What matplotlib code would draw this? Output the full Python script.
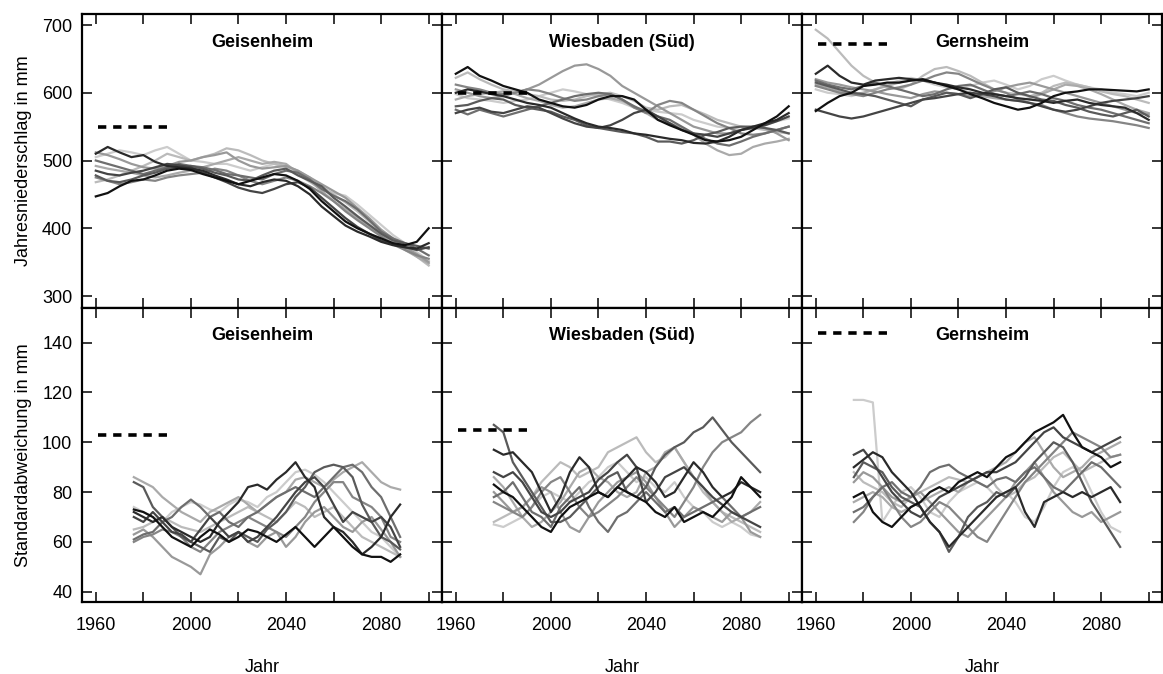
import matplotlib
matplotlib.use("Agg")
import matplotlib.pyplot as plt

# DATA ########################################################################

stations = ["Geisenheim", "Wiesbaden (Süd)", "Gernsheim"]

years_mean = list(range(1960, 2101, 5))
years_std = list(range(1976, 2089, 4))

# observed reference period 1961-1990
ref_period = [1961, 1990]
ref_mean = [550, 600, 672]
ref_std = [103, 105, 144]

# 30-year running annual precipitation (mm), 10 model runs per station
geisenheim_mean = [
    [447, 452, 462, 470, 472, 478, 485, 488, 486, 480, 475, 470, 465, 470, 475, 480, 478, 470, 458, 440, 425, 410, 400, 392, 385, 378, 375, 380, 400],
    [510, 520, 512, 505, 508, 498, 492, 490, 488, 485, 478, 472, 465, 462, 468, 472, 470, 462, 450, 432, 418, 404, 395, 388, 380, 375, 372, 370, 378],
    [485, 480, 478, 482, 485, 490, 495, 493, 490, 482, 475, 468, 460, 455, 452, 458, 465, 468, 460, 445, 430, 415, 402, 392, 382, 376, 372, 368, 372],
    [478, 470, 468, 472, 478, 482, 488, 490, 492, 488, 482, 478, 472, 470, 478, 485, 488, 478, 470, 462, 445, 432, 418, 405, 392, 382, 378, 374, 370],
    [500, 495, 490, 485, 480, 485, 490, 495, 492, 490, 486, 480, 478, 475, 472, 480, 485, 482, 472, 458, 448, 440, 428, 412, 395, 385, 378, 370, 360],
    [475, 470, 465, 468, 472, 470, 475, 478, 480, 482, 488, 485, 478, 470, 465, 470, 475, 470, 462, 452, 440, 425, 412, 400, 388, 376, 368, 360, 355],
    [512, 508, 502, 495, 490, 488, 492, 498, 500, 505, 508, 512, 500, 492, 488, 490, 492, 485, 475, 465, 455, 445, 430, 415, 398, 385, 372, 362, 350],
    [492, 488, 485, 482, 478, 475, 478, 482, 485, 490, 495, 500, 505, 500, 495, 498, 495, 482, 470, 455, 440, 428, 415, 402, 390, 380, 368, 358, 348],
    [468, 472, 478, 485, 492, 500, 510, 505, 500, 505, 510, 518, 515, 508, 500, 495, 492, 485, 475, 462, 450, 438, 425, 410, 395, 382, 370, 358, 345],
    [505, 510, 515, 512, 508, 515, 520, 510, 500, 498, 495, 495, 490, 485, 490, 495, 490, 480, 468, 458, 452, 448, 435, 420, 405, 390, 378, 365, 352],
]

wiesbaden_mean = [
    [628, 638, 625, 618, 610, 605, 600, 590, 585, 580, 578, 582, 590, 595, 595, 590, 575, 560, 552, 545, 538, 530, 528, 530, 535, 545, 555, 565, 580],
    [600, 605, 602, 598, 595, 590, 585, 582, 578, 570, 562, 555, 550, 548, 545, 540, 538, 535, 532, 530, 526, 525, 528, 535, 545, 550, 555, 560, 570],
    [570, 575, 578, 572, 570, 575, 580, 578, 570, 562, 555, 550, 548, 552, 560, 570, 575, 565, 555, 545, 540, 538, 535, 540, 545, 548, 552, 558, 565],
    [580, 582, 588, 592, 590, 582, 578, 575, 572, 565, 560, 552, 548, 545, 542, 540, 535, 528, 528, 525, 530, 538, 542, 548, 550, 550, 548, 545, 540],
    [575, 568, 575, 570, 565, 570, 575, 580, 585, 590, 595, 598, 600, 598, 590, 580, 572, 565, 560, 550, 540, 532, 525, 522, 528, 535, 540, 545, 550],
    [612, 608, 605, 600, 598, 600, 605, 603, 598, 592, 588, 590, 595, 598, 590, 578, 570, 582, 588, 585, 575, 565, 555, 548, 540, 538, 540, 545, 550],
    [605, 600, 595, 592, 595, 600, 605, 612, 622, 632, 640, 642, 635, 625, 610, 600, 590, 580, 570, 560, 550, 545, 540, 540, 545, 550, 548, 540, 530],
    [590, 595, 598, 600, 602, 598, 592, 588, 582, 578, 580, 585, 590, 592, 588, 580, 570, 560, 555, 548, 538, 525, 515, 508, 510, 520, 525, 528, 532],
    [622, 630, 620, 612, 605, 602, 598, 595, 590, 588, 590, 595, 598, 600, 595, 588, 578, 575, 580, 582, 575, 568, 560, 555, 550, 548, 545, 542, 540],
    [598, 592, 590, 588, 585, 588, 590, 595, 600, 605, 602, 598, 595, 590, 585, 578, 575, 572, 570, 568, 560, 555, 550, 548, 545, 548, 552, 558, 562],
]

gernsheim_mean = [
    [573, 585, 595, 600, 610, 612, 615, 615, 618, 620, 615, 610, 605, 598, 592, 585, 580, 575, 578, 585, 595, 600, 602, 605, 605, 604, 603, 602, 605],
    [628, 640, 625, 615, 612, 618, 620, 622, 620, 618, 615, 612, 608, 605, 600, 598, 595, 592, 590, 588, 585, 588, 590, 585, 582, 580, 578, 570, 560],
    [575, 570, 565, 562, 565, 570, 575, 580, 585, 590, 592, 595, 598, 600, 598, 595, 590, 588, 585, 580, 575, 572, 575, 580, 585, 588, 590, 592, 595],
    [615, 610, 605, 600, 598, 595, 590, 585, 580, 590, 595, 600, 598, 592, 598, 605, 608, 600, 595, 590, 588, 582, 578, 572, 568, 565, 570, 575, 565],
    [618, 612, 608, 605, 610, 615, 610, 605, 600, 595, 598, 605, 610, 612, 605, 598, 595, 598, 602, 598, 592, 588, 582, 578, 575, 570, 565, 560, 555],
    [610, 605, 600, 598, 595, 600, 605, 608, 612, 618, 625, 630, 628, 620, 612, 605, 600, 590, 585, 582, 575, 570, 565, 562, 560, 558, 555, 552, 548],
    [620, 615, 612, 608, 605, 602, 598, 595, 592, 598, 602, 600, 598, 595, 598, 602, 608, 612, 615, 610, 605, 600, 595, 590, 585, 580, 575, 570, 568],
    [612, 608, 602, 598, 600, 605, 610, 615, 618, 620, 615, 610, 605, 600, 595, 592, 590, 588, 592, 598, 605, 612, 610, 605, 598, 590, 582, 575, 570],
    [693, 680, 660, 640, 625, 615, 608, 605, 612, 625, 635, 638, 632, 625, 615, 605, 600, 598, 595, 600, 610, 615, 612, 608, 602, 598, 595, 590, 585],
    [605, 600, 598, 595, 600, 605, 612, 618, 622, 618, 612, 608, 605, 610, 615, 618, 612, 605, 610, 620, 625, 618, 612, 608, 605, 600, 598, 595, 600],
]

# 30-year running standard deviation (mm)
geisenheim_std = [
    [73, 72, 70, 66, 62, 60, 58, 62, 65, 63, 60, 62, 65, 64, 62, 60, 63, 66, 62, 58, 62, 66, 62, 58, 55, 54, 54, 52, 55],
    [72, 70, 68, 70, 66, 64, 62, 60, 62, 68, 72, 76, 82, 83, 81, 85, 88, 92, 86, 82, 70, 66, 64, 60, 55, 58, 62, 70, 75],
    [70, 68, 72, 68, 64, 63, 60, 65, 70, 66, 62, 64, 60, 62, 66, 70, 75, 80, 84, 86, 82, 75, 68, 72, 70, 68, 70, 66, 58],
    [84, 82, 74, 70, 66, 62, 60, 58, 56, 62, 60, 64, 62, 60, 65, 68, 72, 78, 82, 88, 90, 91, 90, 86, 75, 68, 62, 60, 57],
    [61, 63, 64, 68, 70, 74, 77, 74, 70, 72, 68, 66, 70, 72, 75, 78, 80, 82, 80, 78, 82, 86, 90, 91, 88, 82, 78, 70, 62],
    [60, 62, 63, 65, 64, 62, 58, 56, 60, 64, 66, 68, 70, 68, 66, 64, 62, 66, 70, 76, 80, 84, 84, 78, 76, 74, 70, 62, 60],
    [63, 65, 62, 58, 54, 52, 50, 47, 55, 58, 62, 64, 60, 58, 62, 64, 58, 62, 68, 72, 74, 70, 66, 64, 68, 70, 65, 60, 54],
    [86, 84, 82, 78, 75, 72, 70, 68, 72, 74, 76, 78, 75, 72, 75, 78, 80, 85, 86, 84, 82, 85, 88, 90, 92, 88, 84, 82, 81],
    [65, 66, 68, 70, 68, 66, 65, 64, 66, 68, 70, 72, 74, 72, 70, 68, 72, 76, 74, 70, 72, 74, 70, 66, 62, 60, 58, 56, 54],
    [74, 72, 70, 68, 72, 74, 76, 75, 73, 72, 75, 77, 76, 74, 78, 80, 84, 88, 89, 87, 84, 80, 76, 72, 68, 64, 62, 58, 54],
]

wiesbaden_std = [
    [83, 80, 78, 74, 70, 66, 64, 70, 74, 76, 78, 80, 78, 82, 80, 78, 76, 72, 70, 74, 68, 70, 72, 70, 74, 78, 86, 82, 78],
    [97, 95, 96, 92, 88, 80, 72, 78, 88, 94, 90, 80, 78, 82, 86, 90, 88, 84, 78, 80, 86, 92, 88, 82, 78, 80, 84, 82, 80],
    [88, 86, 88, 84, 78, 72, 70, 72, 76, 78, 80, 85, 88, 92, 95, 90, 76, 80, 86, 88, 90, 86, 82, 78, 75, 72, 70, 68, 66],
    [107, 104, 92, 86, 80, 74, 68, 68, 70, 74, 78, 82, 86, 88, 80, 78, 82, 90, 95, 98, 100, 104, 106, 110, 105, 100, 96, 92, 88],
    [78, 80, 84, 78, 72, 70, 66, 74, 78, 82, 74, 68, 64, 70, 72, 76, 80, 76, 72, 74, 70, 72, 74, 76, 78, 74, 70, 72, 74],
    [76, 74, 72, 70, 74, 80, 84, 86, 80, 74, 70, 72, 75, 78, 82, 86, 82, 78, 74, 70, 76, 82, 90, 96, 100, 102, 104, 108, 111],
    [80, 76, 72, 74, 78, 82, 80, 72, 66, 64, 70, 76, 80, 84, 86, 88, 84, 78, 72, 66, 70, 74, 72, 70, 68, 72, 70, 64, 62],
    [86, 82, 76, 70, 66, 68, 72, 76, 82, 88, 90, 86, 84, 80, 78, 80, 88, 90, 96, 98, 92, 86, 82, 76, 72, 68, 70, 72, 76],
    [68, 70, 72, 74, 78, 84, 88, 92, 90, 86, 88, 90, 96, 98, 100, 102, 96, 92, 94, 98, 92, 86, 80, 76, 72, 70, 68, 66, 64],
    [67, 66, 68, 70, 74, 78, 80, 78, 76, 80, 84, 86, 90, 92, 88, 84, 86, 82, 80, 84, 78, 74, 72, 68, 66, 68, 66, 63, 62],
]

gernsheim_std = [
    [78, 80, 72, 68, 66, 70, 74, 76, 80, 82, 80, 84, 86, 88, 86, 90, 94, 96, 100, 104, 106, 108, 111, 104, 98, 96, 94, 90, 92],
    [90, 93, 96, 94, 88, 84, 80, 74, 68, 64, 58, 62, 66, 70, 74, 78, 80, 82, 72, 66, 76, 78, 80, 78, 80, 78, 80, 82, 76],
    [95, 97, 92, 86, 80, 76, 72, 70, 74, 78, 80, 82, 84, 86, 88, 88, 90, 92, 96, 100, 104, 106, 102, 100, 98, 96, 98, 100, 102],
    [86, 92, 90, 88, 82, 78, 76, 74, 68, 64, 56, 62, 70, 74, 76, 80, 78, 82, 86, 92, 96, 100, 98, 92, 84, 76, 70, 64, 58],
    [72, 74, 78, 82, 84, 80, 78, 82, 88, 90, 91, 88, 86, 84, 82, 85, 86, 84, 88, 90, 86, 82, 80, 84, 88, 92, 90, 86, 82],
    [68, 72, 78, 82, 76, 70, 66, 68, 72, 76, 74, 70, 66, 62, 60, 66, 72, 78, 84, 88, 92, 96, 100, 104, 102, 100, 98, 94, 95],
    [84, 88, 86, 82, 78, 76, 78, 80, 76, 72, 68, 64, 62, 66, 70, 74, 78, 84, 88, 92, 86, 80, 76, 72, 70, 72, 68, 70, 72],
    [76, 78, 80, 78, 74, 72, 74, 76, 78, 80, 82, 80, 84, 86, 88, 90, 92, 96, 100, 102, 96, 90, 86, 88, 90, 94, 96, 98, 100],
    [88, 84, 82, 80, 76, 74, 78, 80, 82, 84, 86, 85, 84, 86, 88, 82, 78, 80, 84, 86, 90, 94, 96, 92, 88, 90, 92, 94, 95],
    [117, 117, 116, 68, 74, 80, 82, 78, 72, 70, 76, 80, 82, 84, 82, 78, 80, 76, 70, 68, 74, 82, 88, 90, 88, 80, 72, 66, 64],
]

mean_runs = [geisenheim_mean, wiesbaden_mean, gernsheim_mean]
std_runs = [geisenheim_std, wiesbaden_std, gernsheim_std]

grays = ["#111111", "#2a2a2a", "#444444", "#5a5a5a", "#6e6e6e",
         "#858585", "#999999", "#aaaaaa", "#bbbbbb", "#cccccc"]

# STYLE #######################################################################

plt.rcParams["font.family"] = ["Liberation Sans", "DejaVu Sans"]
plt.rcParams["font.size"] = 13

W, H = 1163, 674
fig = plt.figure(figsize=(W / 100, H / 100), dpi=100)

lefts = [82, 442, 802]
pw = 360
rows = [(14.3, 308.0), (308.0, 601.7)]   # top, bottom in pixels


def style_axis(ax, show_x, show_y):
    for s in ax.spines.values():
        s.set_linewidth(1.6)
    ax.tick_params(axis="both", direction="in", length=7, width=1.1,
                   top=True, right=True,
                   labelbottom=show_x, labelleft=show_y)
    ax.tick_params(axis="x", pad=11)
    ax.tick_params(axis="y", pad=7)
    ax.set_xlim(1954.2, 2105.6)
    ax.set_xticks(range(1960, 2101, 20))
    ax.set_xticklabels(["1960", "", "2000", "", "2040", "", "2080", ""])


# PLOT ########################################################################

for r, (runs, yrs, refs, ylim, yticks, ylabel) in enumerate([
        (mean_runs, years_mean, ref_mean, (282.3, 715.8), range(300, 701, 100),
         "Jahresniederschlag in mm"),
        (std_runs, years_std, ref_std, (36, 153.9), range(40, 141, 20),
         "Standardabweichung in mm")]):
    top, bot = rows[r]
    for c in range(3):
        ax = fig.add_axes([lefts[c] / W, 1 - bot / H, pw / W, (bot - top) / H])
        for i in reversed(range(len(runs[c]))):
            ax.plot(yrs, runs[c][i], color=grays[i], lw=1.6)
        ax.plot(ref_period, [refs[c], refs[c]], color="black", lw=2.6,
                linestyle=(0, (2.3, 1.9)))
        ax.set_ylim(*ylim)
        ax.set_yticks(list(yticks))
        style_axis(ax, show_x=(r == 1), show_y=(c == 0))
        ax.text(0.5, 0.905, stations[c], transform=ax.transAxes,
                ha="center", va="center", fontweight="bold")
        if c == 0:
            ax.set_ylabel(ylabel, labelpad=7)
        if r == 1:
            ax.set_xlabel("Jahr", labelpad=18)

plt.savefig("out.png", dpi=100)
